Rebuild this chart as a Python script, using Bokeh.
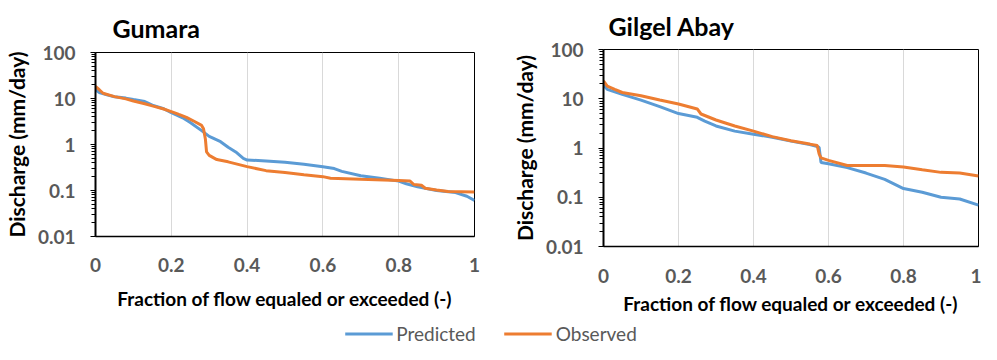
from bokeh.plotting import figure
from bokeh.layouts import column, row
from bokeh.models import Range1d, FixedTicker, Legend, LegendItem
from bokeh.embed import file_html
from bokeh.resources import INLINE

# ---- data ----
gum_pred_x = [0, 0.01, 0.03, 0.05, 0.08, 0.1, 0.13, 0.15, 0.18, 0.2, 0.23, 0.25, 0.28, 0.3, 0.33,
              0.35, 0.37, 0.39, 0.4, 0.45, 0.5, 0.55, 0.6, 0.63, 0.65, 0.7, 0.75, 0.8, 0.82, 0.85,
              0.9, 0.95, 0.98, 1.0]
gum_pred_y = [15.5, 13.5, 12, 10.9, 10.2, 9.5, 8.6, 7.2, 6.0, 4.9, 3.8, 3.0, 2.0, 1.5, 1.15,
              0.87, 0.69, 0.5, 0.46, 0.44, 0.41, 0.37, 0.33, 0.3, 0.26, 0.21, 0.185, 0.16, 0.14, 0.12,
              0.10, 0.09, 0.075, 0.061]
gum_obs_x = [0, 0.01, 0.02, 0.05, 0.08, 0.1, 0.13, 0.15, 0.18, 0.2, 0.22, 0.24, 0.26, 0.28, 0.285,
             0.29, 0.293, 0.3, 0.32, 0.35, 0.4, 0.45, 0.5, 0.55, 0.6, 0.62, 0.7, 0.8, 0.83, 0.84,
             0.86, 0.87, 0.9, 0.93, 1.0]
gum_obs_y = [18.3, 15.5, 13, 11, 9.8, 8.8, 7.7, 6.9, 5.9, 5.2, 4.5, 3.9, 3.2, 2.6, 2.2,
             1.3, 0.69, 0.58, 0.47, 0.42, 0.33, 0.27, 0.245, 0.22, 0.2, 0.185, 0.175, 0.165, 0.16, 0.135,
             0.13, 0.112, 0.103, 0.095, 0.093]
gil_pred_x = [0, 0.01, 0.05, 0.1, 0.15, 0.2, 0.25, 0.27, 0.3, 0.35, 0.4, 0.45, 0.5, 0.55, 0.57,
              0.575, 0.58, 0.6, 0.65, 0.7, 0.75, 0.8, 0.85, 0.9, 0.95, 1.0]
gil_pred_y = [19, 15.5, 12.3, 9.4, 6.9, 5.0, 4.2, 3.5, 2.8, 2.2, 1.9, 1.66, 1.38, 1.17, 1.07,
              1.03, 0.51, 0.48, 0.40, 0.31, 0.23, 0.15, 0.126, 0.10, 0.092, 0.069]
gil_obs_x = [0, 0.01, 0.03, 0.05, 0.1, 0.15, 0.2, 0.25, 0.26, 0.3, 0.35, 0.4, 0.45, 0.5, 0.55,
             0.57, 0.575, 0.58, 0.6, 0.65, 0.7, 0.75, 0.8, 0.85, 0.9, 0.95, 1.0]
gil_obs_y = [23, 18, 15.5, 13.4, 11.5, 9.4, 7.8, 6.2, 4.9, 3.7, 2.8, 2.2, 1.7, 1.4, 1.2,
             1.12, 0.76, 0.63, 0.56, 0.44, 0.44, 0.44, 0.41, 0.36, 0.32, 0.31, 0.27]

x_ticks = [0, 0.2, 0.4, 0.6, 0.8, 1]
x_tick_labels = ["0", "0.2", "0.4", "0.6", "0.8", "1"]
y_ticks = [0.01, 0.1, 1, 10, 100]
y_tick_labels = ["0.01", "0.1", "1", "10", "100"]
series_names = ["Predicted", "Observed"]
titles = ["Gumara", "Gilgel Abay"]

BLUE = "#5B9BD5"
ORANGE = "#ED7D31"
FONT = "Lato"
minor = [m * d for d in (0.01, 0.1, 1, 10) for m in range(2, 10)]


def make(title, px, py, ox, oy, width, height, bl, br, bb, title_off, title_standoff,
         xt_standoff, xl_standoff, yl_standoff):
    p = figure(width=width, height=height, y_axis_type="log", output_backend="svg",
               toolbar_location=None, x_range=Range1d(0, 1), y_range=Range1d(0.01, 100),
               min_border_left=bl, min_border_right=br, min_border_top=0, min_border_bottom=bb)
    p.frame_align = False
    p.title.text = title
    p.title.text_font = FONT
    p.title.text_font_size = "25px"
    p.title.text_font_style = "bold"
    p.title.text_color = "black"
    p.title.offset = title_off
    p.title.standoff = title_standoff
    p.outline_line_color = "black"
    p.outline_line_width = 1
    p.background_fill_color = "white"
    p.border_fill_color = "white"
    p.line(px, py, line_color=BLUE, line_width=3)
    p.line(ox, oy, line_color=ORANGE, line_width=3)

    xa = p.xaxis[0]
    xa.ticker = FixedTicker(ticks=x_ticks)
    xa.major_label_overrides = {t: l for t, l in zip(x_ticks, x_tick_labels)}
    xa.major_tick_line_color = None
    xa.minor_tick_line_color = None
    xa.axis_line_color = "black"
    xa.axis_line_width = 1.5
    xa.major_label_standoff = xt_standoff
    xa.axis_label = "Fraction of flow equaled or exceeded (-)"
    xa.axis_label_standoff = xl_standoff

    ya = p.yaxis[0]
    ya.ticker = FixedTicker(ticks=y_ticks, minor_ticks=minor)
    ya.major_label_overrides = {t: l for t, l in zip(y_ticks, y_tick_labels)}
    ya.major_tick_out = 5
    ya.major_tick_in = 0
    ya.minor_tick_out = 4
    ya.minor_tick_in = 0
    ya.axis_line_color = "black"
    ya.axis_line_width = 2
    ya.major_label_standoff = yl_standoff
    ya.axis_label = "Discharge (mm/day)"
    ya.axis_label_standoff = 6

    for ax in (xa, ya):
        ax.major_label_text_font = FONT
        ax.major_label_text_font_size = "19px"
        ax.major_label_text_font_style = "bold"
        ax.major_label_text_color = "#595959"
        ax.axis_label_text_font = FONT
        ax.axis_label_text_font_style = "bold"
        ax.axis_label_text_color = "black"
    xa.axis_label_text_font_size = "19px"
    ya.axis_label_text_font_size = "21px"

    p.xgrid.ticker = FixedTicker(ticks=x_ticks)
    p.xgrid.grid_line_color = "#d9d9d9"
    p.ygrid.grid_line_color = None
    return p


p1 = make(titles[0], gum_pred_x, gum_pred_y, gum_obs_x, gum_obs_y,
          490, 322, 93, 16, 86, 17, 20, 15, 12, 15)
p2 = make(titles[1], gil_pred_x, gil_pred_y, gil_obs_x, gil_obs_y,
          491, 322, 113, 3, 76, 5, 17, 16, 6, 15)

pl = figure(width=981, height=22, output_backend="svg", toolbar_location=None,
            min_border=0, x_range=Range1d(0, 1), y_range=Range1d(0, 1))
pl.axis.visible = False
pl.grid.visible = False
pl.outline_line_color = None
r1 = pl.line(gum_pred_x[:1], [-5], line_color=BLUE, line_width=3)
r2 = pl.line(gum_obs_x[:1], [-5], line_color=ORANGE, line_width=3)
leg = Legend(items=[LegendItem(label=series_names[0], renderers=[r1]),
                    LegendItem(label=series_names[1], renderers=[r2])],
             orientation="horizontal", location="center")
leg.border_line_color = None
leg.background_fill_alpha = 0
leg.label_text_font = FONT
leg.label_text_font_size = "19px"
leg.label_text_color = "#595959"
leg.glyph_width = 48
leg.label_standoff = 4
leg.spacing = 28
leg.padding = 0
leg.margin = 0
pl.add_layout(leg, "center")

layout = column(row(p1, p2), pl)
open("out.html", "w").write(file_html(layout, INLINE))
